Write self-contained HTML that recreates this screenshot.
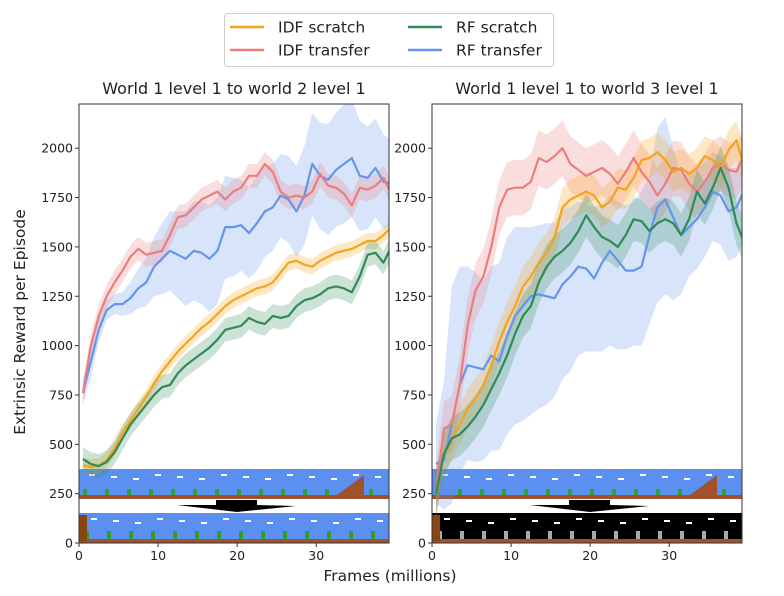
<!DOCTYPE html>
<html><head><meta charset="utf-8"><style>
body{margin:0;background:#fff;width:784px;height:592px;overflow:hidden;font-family:"DejaVu Sans","Liberation Sans",sans-serif}
svg text{font-family:"DejaVu Sans","Liberation Sans",sans-serif;fill:#222}
</style></head><body>
<svg id="c" width="784" height="592"></svg>
<script>
const xs=[];for(let i=0;i<40;i++)xs.push(i);
const seriesNames=["IDF scratch","IDF transfer","RF scratch","RF transfer"];
const colors=["#f7a21b","#ec7d7d","#2e8b57","#6495ed"];
const yTicks=[0,250,500,750,1000,1250,1500,1750,2000];
const xTicks=[0,10,20,30];
// left panel
const L_idfScratch=[395,385,390,420,480,560,620,680,740,810,870,920,970,1010,1050,1090,1120,1160,1200,1230,1250,1270,1290,1300,1320,1370,1420,1430,1410,1400,1430,1450,1470,1480,1490,1510,1530,1530,1560,1600];
const L_idfTransfer=[760,1000,1150,1250,1320,1380,1450,1490,1460,1470,1480,1560,1650,1660,1700,1740,1760,1780,1740,1780,1800,1860,1860,1920,1880,1780,1750,1760,1750,1780,1870,1810,1800,1770,1710,1800,1790,1810,1850,1770];
const L_rfScratch=[425,400,390,410,460,530,600,650,700,750,790,800,860,900,930,960,990,1030,1080,1090,1100,1140,1120,1110,1150,1140,1150,1200,1230,1240,1260,1290,1300,1290,1270,1350,1460,1470,1420,1500];
const L_rfTransfer=[760,920,1080,1180,1210,1210,1240,1290,1320,1400,1440,1480,1460,1440,1480,1470,1440,1480,1600,1600,1610,1570,1620,1680,1700,1760,1740,1680,1760,1920,1860,1840,1890,1920,1950,1860,1850,1900,1830,1820];
const L_spread=[40,60,60,40];
const L_blueUpper=[60,80,60,50,50,60,80,100,120,150,180,200,220,240,250,260,270,270,260,250,230,230,240,230,220,210,220,230,250,260,270,280,290,300,300,280,260,250,240,220];
const L_blueLower=L_blueUpper;
// right panel
const R_idfScratch=[250,450,520,600,680,730,800,900,1020,1120,1200,1300,1350,1420,1470,1550,1700,1740,1760,1780,1760,1700,1730,1800,1790,1850,1940,1950,1980,1940,1880,1900,1870,1900,1960,1940,1900,1990,2040,1900];
const R_idfTransfer=[250,580,600,800,1100,1280,1350,1500,1700,1790,1800,1800,1830,1950,1930,1960,2000,1920,1890,1860,1880,1900,1870,1820,1880,1950,1880,1830,1760,1820,1900,1890,1820,1780,1830,1900,1920,1890,1880,1970];
const R_rfScratch=[250,450,530,550,590,640,700,780,860,950,1060,1150,1200,1320,1400,1450,1480,1520,1580,1660,1600,1550,1530,1500,1560,1640,1630,1580,1620,1640,1620,1560,1640,1780,1720,1800,1900,1800,1620,1520];
const R_rfTransfer=[400,420,600,800,900,890,880,950,920,1050,1150,1200,1250,1260,1250,1240,1310,1350,1400,1390,1340,1420,1480,1430,1380,1380,1400,1560,1700,1740,1650,1560,1600,1640,1700,1780,1760,1680,1700,1790];
const R_spread=[100,140,110,400];
const R_blueUpper=[200,400,700,600,500,480,450,450,500,500,450,400,350,350,370,380,380,350,330,330,360,300,280,300,330,350,380,300,400,420,350,300,280,260,230,200,200,220,200,180];
const R_blueLower=[200,250,400,450,480,480,460,480,450,500,550,580,600,580,550,500,480,480,450,420,370,450,480,450,400,380,400,450,480,480,420,300,250,250,250,250,250,250,250,250];

const NS="http://www.w3.org/2000/svg";
const svg=document.getElementById('c');
function el(t,a,p){const e=document.createElementNS(NS,t);for(const k in a)e.setAttribute(k,a[k]);(p||svg).appendChild(e);return e;}

function panel(x0,x1,title,data,spreads,bUp,bLo,name,night){
  const top=104,bot=543,xmax=39.2;
  const X=v=>x0+(x1-x0)*v/xmax;
  const Y=v=>bot-v*0.1974;
  const g=el('g',{});
  
  
  const cid='clip'+name;
  const cp=el('clipPath',{id:cid},g);el('rect',{x:x0,y:top,width:x1-x0,height:bot-top},cp);
  const inner=el('g',{'clip-path':'url(#'+cid+')'},g);
  const s1=el('g',{},inner);
  el('rect',{x:x0,y:469,width:x1-x0,height:30,fill:'#5b8ff0'},s1);
  el('rect',{x:x0,y:495,width:x1-x0,height:4,fill:'#a0522d'},s1);
  for(let i=0;i<14;i++){el('rect',{x:x0+10+i*22,y:474+(i%3)*2,width:6,height:2,fill:'#fff'},s1);el('rect',{x:x0+4+i*22,y:489,width:4,height:6,fill:'#2ea02e'},s1);}
  el('polygon',{points:`${x0+258},495 ${x0+285},475 ${x0+285},495`,fill:'#a0522d'},s1);
  const s2=el('g',{},inner);
  el('rect',{x:x0,y:513,width:x1-x0,height:30,fill:night?'#000':'#5b8ff0'},s2);
  el('rect',{x:x0,y:539,width:x1-x0,height:4,fill:'#a0522d'},s2);
  for(let i=0;i<14;i++){el('rect',{x:x0+12+i*22,y:518+(i%3)*2,width:6,height:2,fill:'#fff'},s2);el('rect',{x:x0+6+i*22,y:531,width:4,height:8,fill:night?'#aaa':'#2ea02e'},s2);}
  el('rect',{x:x0,y:515,width:8,height:26,fill:'#8b4513'},s2);
  const ar=el('polygon',{points:`${x0+98},505 ${x0+137},505 ${x0+137},500 ${x0+178},500 ${x0+178},505 ${x0+217},506 ${x0+158},512`,fill:'#000'},inner);
  
  const order=[3,1,0,2];
  order.forEach(si=>{
    const d=data[si];
    const up=i=>si===3?bUp[i]:spreads[si];
    const lo=i=>si===3?bLo[i]:spreads[si];
    let pts=xs.map((x,i)=>X(x+0.5)+','+Y(d[i]+up(i))).concat(xs.slice().reverse().map(x=>X(x+0.5)+','+Y(d[x]-lo(x))));
    const b=el('polygon',{points:pts.join(' '),fill:colors[si],'fill-opacity':0.25},inner);
    
    
  });
  order.forEach(si=>{
    const d=data[si];
    const l=el('polyline',{points:xs.map((x,i)=>X(x+0.5)+','+Y(d[i])).join(' '),fill:'none',stroke:colors[si],'stroke-width':2.2,'stroke-linejoin':'round'},inner);
    
    
  });
  el('rect',{x:x0,y:top,width:x1-x0,height:bot-top,fill:'none',stroke:'#333','stroke-width':1},g);
  yTicks.forEach(v=>{
    el('line',{x1:x0-4,x2:x0,y1:Y(v),y2:Y(v),stroke:'#333'},g);
    const t=el('text',{x:x0-6,y:Y(v)+4.5,'text-anchor':'end','font-size':12.5},g);t.textContent=v;
    
  });
  xTicks.forEach(v=>{
    el('line',{x1:X(v),x2:X(v),y1:bot,y2:bot+4,stroke:'#333'},g);
    const t=el('text',{x:X(v),y:bot+17,'text-anchor':'middle','font-size':12.5},g);t.textContent=v;
    
  });
  const tt=el('text',{x:(x0+x1)/2,y:94,'text-anchor':'middle','font-size':16},g);tt.textContent=title;
  
}
panel(79,389,"World 1 level 1 to world 2 level 1",[L_idfScratch,L_idfTransfer,L_rfScratch,L_rfTransfer],L_spread,L_blueUpper,L_blueLower,'left-panel',false);
panel(432,742,"World 1 level 1 to world 3 level 1",[R_idfScratch,R_idfTransfer,R_rfScratch,R_rfTransfer],R_spread,R_blueUpper,R_blueLower,'right-panel',true);

const yl=el('text',{x:0,y:0,'text-anchor':'middle','font-size':15.5,transform:'translate(25,322) rotate(-90)'});
yl.textContent='Extrinsic Reward per Episode';

const xl=el('text',{x:390,y:581,'text-anchor':'middle','font-size':15.5});
xl.textContent='Frames (millions)';


const lg=el('g',{});

el('rect',{x:224.5,y:13.5,width:329,height:53,rx:3,fill:'#fff',stroke:'#ccc'},lg);
const pos=[[230,27],[230,50],[408,27],[408,50]];
seriesNames.forEach((n,i)=>{
  const e=el('g',{},lg);
  
  
  el('line',{x1:pos[i][0],x2:pos[i][0]+34,y1:pos[i][1],y2:pos[i][1],stroke:colors[i],'stroke-width':2.5},e);
  const t=el('text',{x:pos[i][0]+48,y:pos[i][1]+5.5,'font-size':15.5},e);t.textContent=n;
});
</script>
</body></html>
